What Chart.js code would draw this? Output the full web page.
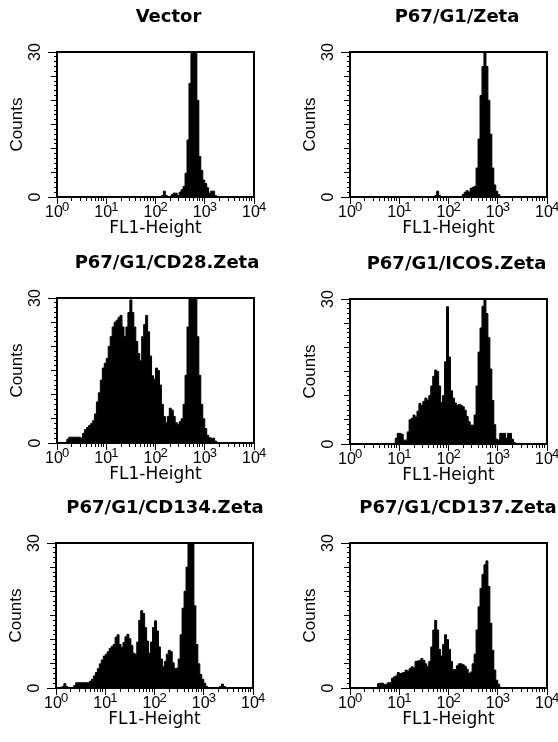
<!DOCTYPE html>
<html>
<head>
<meta charset="utf-8">
<script src="https://cdn.jsdelivr.net/npm/chart.js@4"></script>
<style>
  html, body { margin: 0; padding: 0; background: #fff; overflow: hidden; width: 558px; height: 742px; position: relative; }
  canvas { position: absolute; }
</style>
</head>
<body>
<script>
// ---------------- data ----------------
const BINS_PER_DECADE = 25;           // histogram channels per decade (4 decades, 10^0 .. 10^4)

const panelTitles = ['Vector', 'P67/G1/Zeta', 'P67/G1/CD28.Zeta', 'P67/G1/ICOS.Zeta', 'P67/G1/CD134.Zeta', 'P67/G1/CD137.Zeta'];

const xTickValues = [1, 2, 3, 4, 5, 6, 7, 8, 9,
                     10, 20, 30, 40, 50, 60, 70, 80, 90,
                     100, 200, 300, 400, 500, 600, 700, 800, 900,
                     1000, 2000, 3000, 4000, 5000, 6000, 7000, 8000, 9000, 10000];
const xDecadeValues = [1, 10, 100, 1000, 10000];
const xTickBases = { 1: '10', 10: '10', 100: '10', 1000: '10', 10000: '10' };
const xTickExponents = { 1: '0', 10: '1', 100: '2', 1000: '3', 10000: '4' };

const yTickValues = [0, 1, 2, 3, 4, 5, 6, 7, 8, 9, 10, 11, 12, 13, 14, 15, 16, 17, 18, 19, 20,
                     21, 22, 23, 24, 25, 26, 27, 28, 29, 30];
const yTickLabels = { 0: '0', 30: '30' };

const xAxisTitle = 'FL1-Height';
const yAxisTitle = 'Counts';

const vectorCounts = [
  0, 0, 0, 0, 0, 0, 0, 0, 0, 0,
  0, 0, 0, 0, 0, 0, 0, 0, 0, 0,
  0, 0, 0, 0, 0, 0, 0, 0, 0, 0,
  0, 0, 0, 0, 0, 0, 0, 0, 0, 0,
  0, 0, 0, 0, 0, 0, 0, 0, 0, 0,
  0, 0, 0, 0.3, 1.2, 0.3, 0, 0, 0.5, 0.8,
  0.8, 0.3, 1, 1.5, 2.2, 4.9, 11.8, 23.5, 40, 45,
  40, 20, 8.4, 5.5, 3.5, 2.8, 1.9, 0.8, 1.2, 1.2,
  0.3, 0, 0, 0, 0, 0, 0, 0, 0, 0,
  0, 0, 0, 0, 0, 0, 0, 0, 0, 0
];

const zetaCounts = [
  0, 0, 0, 0, 0, 0, 0, 0, 0, 0,
  0, 0, 0, 0, 0, 0, 0, 0, 0, 0,
  0, 0, 0, 0, 0, 0, 0, 0, 0, 0,
  0, 0, 0, 0, 0, 0, 0, 0, 0, 0,
  0, 0, 0, 0.3, 1.2, 0.3, 0, 0, 0, 0,
  0, 0, 0, 0, 0, 0, 0, 0.5, 1, 1.3,
  1, 1.8, 2, 2.2, 6, 12, 21, 27, 30.5, 27,
  20, 13, 6, 2.5, 1.2, 0.5, 0, 0, 0, 0,
  0, 0, 0, 0, 0, 0, 0, 0, 0, 0,
  0, 0, 0, 0, 0, 0, 0, 0, 0, 0
];

const cd28Counts = [
  0, 0, 0, 0, 0, 0.8, 1.2, 1.2, 1.2, 1.2,
  1.2, 1.2, 1, 2, 2.8, 3.2, 3.6, 4, 4.6, 6,
  8.5, 10.4, 13, 15.5, 16.5, 17.5, 20, 22, 24, 25,
  25.4, 26, 26.4, 24, 22, 24, 27, 29.6, 27, 24,
  21, 18.5, 17, 22, 24.5, 26.4, 23, 18, 13.9, 13.2,
  15.5, 15, 12, 8, 5.5, 4.2, 5.5, 7.2, 6.8, 5.5,
  4.2, 3.8, 4.4, 5, 8, 14, 24, 33, 40, 42,
  35, 22, 14, 8, 5, 3, 1.6, 1.1, 1, 1,
  0.4, 0, 0, 0, 0, 0, 0, 0, 0, 0,
  0, 0, 0, 0, 0, 0, 0, 0, 0, 0
];

const icosCounts = [
  0, 0, 0, 0, 0, 0, 0, 0, 0, 0,
  0, 0, 0, 0, 0, 0, 0, 0, 0, 0,
  0, 0, 0, 1.2, 2.2, 2.2, 2, 0.8, 0.8, 2.5,
  5, 5.3, 6, 5.6, 6.8, 8.4, 8, 8.8, 9.5, 9.1,
  10, 12, 14, 15.3, 15, 12, 8.6, 10, 17, 28.4,
  18, 11, 9.5, 8.5, 8, 8.2, 8, 7.7, 7, 5.7,
  4.6, 3.9, 3.9, 6, 12, 19, 24, 28.5, 29.8, 27,
  22, 15.5, 9, 4, 1, 0.8, 2.2, 2.2, 2.2, 1.2,
  2.2, 2.2, 1, 0.3, 0, 0, 0, 0, 0, 0,
  0, 0, 0, 0, 0, 0, 0, 0, 0, 0
];

const cd134Counts = [
  0, 0, 0, 0.3, 0.9, 0.3, 0, 0, 0, 0.5,
  1.1, 1.1, 1.1, 1.1, 1.1, 1.1, 1.1, 1.4, 1.8, 2.5,
  3.2, 4, 5, 5.8, 6.6, 7, 7.5, 8.2, 8.6, 9,
  10.5, 11, 9, 8.4, 9.4, 10.6, 11.1, 10.2, 8.8, 7.2,
  7, 9.5, 14, 16, 15.4, 12.5, 9.7, 7.2, 9.5, 12.5,
  13.9, 11.8, 8.5, 6, 4.4, 5.5, 7, 7.8, 7.5, 5.2,
  4, 4.1, 6, 11, 16.5, 20, 25, 35, 40, 30,
  17, 9, 5, 2.8, 1.8, 1, 0.3, 0, 0, 0,
  0, 0, 0, 0.3, 0.8, 0.3, 0, 0, 0, 0,
  0, 0, 0, 0, 0, 0, 0, 0, 0, 0
];

const cd137Counts = [
  0, 0, 0, 0, 0, 0, 0, 0, 0, 0,
  0, 0, 0, 0, 0.9, 1, 1, 0.7, 0.8, 1.1,
  1.1, 2, 2.3, 2.5, 3.2, 3, 3.1, 3.2, 3.7, 3.5,
  4, 4.4, 4.2, 5.5, 5.6, 5.7, 6.1, 5.7, 5, 4.4,
  5.5, 8.5, 12, 14, 12, 8, 6.6, 9, 11, 10,
  8, 5.5, 3.8, 3.8, 4.6, 5, 5, 4.8, 4.5, 3.9,
  3, 3.3, 5, 7, 12, 16.8, 20.6, 23.5, 25.5, 26.3,
  21, 13.4, 7.8, 3.7, 1.6, 0.8, 0, 0, 0, 0,
  0, 0, 0, 0, 0, 0, 0, 0, 0, 0,
  0, 0, 0, 0, 0, 0, 0, 0, 0, 0
];

const panelCounts = [vectorCounts, zetaCounts, cd28Counts, icosCounts, cd134Counts, cd137Counts];

// ---------------- layout (positions only) ----------------
const Y_AXIS_W = 58, PLOT_W = 197, PLOT_H = 145, TITLE_H = 52, X_AXIS_H = 40;
const panelBoxes = [
  { left: 57,  top: 52,  titleShift: 13 },
  { left: 350, top: 52,  titleShift: 8.5 },
  { left: 57,  top: 298, titleShift: 11.5 },
  { left: 350, top: 299, titleShift: 8 },
  { left: 56,  top: 543, titleShift: 10.5 },
  { left: 350, top: 543, titleShift: 9.5 }
];

Chart.defaults.color = '#000';

const boxPlugin = {
  id: 'plotBox',
  afterDatasetsDraw(chart) {
    const { ctx, chartArea: a } = chart;
    ctx.save();
    ctx.strokeStyle = '#000';
    ctx.lineWidth = 2;
    ctx.strokeRect(a.left, a.top, a.right - a.left, a.bottom - a.top);
    ctx.restore();
  }
};

function isDecade(v) {
  const l = Math.log10(v);
  return Math.abs(l - Math.round(l)) < 1e-9;
}

panelCounts.forEach((counts, k) => {
  const box = panelBoxes[k];
  const rightW = Math.round(2 * (box.titleShift + 29));
  const canvas = document.createElement('canvas');
  const cw = Y_AXIS_W + PLOT_W + rightW;
  const ch = TITLE_H + PLOT_H + X_AXIS_H;
  canvas.width = cw; canvas.height = ch;
  canvas.style.width = cw + 'px'; canvas.style.height = ch + 'px';
  canvas.style.left = (box.left - Y_AXIS_W) + 'px';
  canvas.style.top = (box.top - TITLE_H) + 'px';
  document.body.appendChild(canvas);

  const points = counts.concat([0]).map((c, i) => ({ x: Math.pow(10, i / BINS_PER_DECADE), y: c }));

  new Chart(canvas, {
    type: 'line',
    data: {
      datasets: [{
        data: points,
        stepped: true,
        fill: 'origin',
        backgroundColor: '#000',
        borderColor: '#000',
        borderWidth: 1,
        pointRadius: 0,
        tension: 0,
        xAxisID: 'x',
        yAxisID: 'y'
      }]
    },
    options: {
      responsive: false,
      animation: false,
      devicePixelRatio: 1,
      events: [],
      layout: { padding: 0 },
      plugins: {
        legend: { display: false },
        tooltip: { enabled: false },
        title: {
          display: true,
          text: panelTitles[k],
          color: '#000',
          font: { family: "'DejaVu Sans', sans-serif", size: 18, weight: 'bold', lineHeight: 1 },
          padding: { top: 8.5, bottom: 25.5 }
        }
      },
      scales: {
        x: {
          type: 'logarithmic',
          position: 'bottom',
          weight: 0,
          min: 1,
          max: 10000,
          afterBuildTicks: s => { s.ticks = xTickValues.map(v => ({ value: v, major: isDecade(v) })); },
          afterFit: s => { s.height = X_AXIS_H; s.paddingLeft = 0; s.paddingRight = 0; },
          border: { display: false },
          grid: {
            display: true,
            drawOnChartArea: false,
            drawTicks: true,
            tickLength: 7,
            tickColor: '#000',
            tickWidth: 1,
            tickBorderDash: c => (c.tick && isDecade(c.tick.value)) ? [] : [4, 60]
          },
          ticks: {
            autoSkip: false,
            maxRotation: 0,
            minRotation: 0,
            padding: 1,
            labelOffset: -3,
            color: '#000',
            font: { family: "'Liberation Sans', sans-serif", size: 16, lineHeight: 1 },
            callback: v => xTickBases[v] || ''
          },
          title: {
            display: true,
            text: xAxisTitle,
            color: '#000',
            font: { family: "'DejaVu Sans', sans-serif", size: 17, lineHeight: 1 },
            padding: { top: 0, bottom: 0 }
          }
        },
        xExp: {
          type: 'logarithmic',
          axis: 'x',
          position: 'bottom',
          weight: -1,
          min: 1,
          max: 10000,
          afterBuildTicks: s => { s.ticks = xDecadeValues.map(v => ({ value: v })); },
          afterFit: s => { s.height = 0; s.paddingLeft = 0; s.paddingRight = 0; },
          border: { display: false },
          grid: { display: false, drawTicks: false, tickLength: 0 },
          ticks: {
            autoSkip: false,
            mirror: true,
            maxRotation: 0,
            minRotation: 0,
            padding: -17,
            labelOffset: 8.5,
            color: '#000',
            font: { family: "'Liberation Sans', sans-serif", size: 13, lineHeight: 1 },
            callback: v => xTickExponents[v] || ''
          }
        },
        y: {
          type: 'linear',
          position: 'left',
          min: 0,
          max: 30,
          weight: 0,
          afterBuildTicks: s => { s.ticks = yTickValues.map(v => ({ value: v })); },
          afterFit: s => { s.width = Y_AXIS_W; s.paddingTop = 0; s.paddingBottom = 0; },
          border: { display: false },
          grid: {
            display: true,
            drawOnChartArea: false,
            drawTicks: true,
            tickLength: 9,
            tickColor: '#000',
            tickWidth: 1,
            tickBorderDash: c => {
              const v = c.tick ? c.tick.value : 0;
              if (v === 0 || v === 30) return [];
              if (v % 5 === 0) return [0, 3, 6, 60];
              return [0, 6, 3, 60];
            }
          },
          ticks: {
            autoSkip: false,
            minRotation: 90,
            maxRotation: 90,
            crossAlign: 'center',
            padding: 4,
            color: '#000',
            font: { family: "'Liberation Sans', sans-serif", size: 16, lineHeight: 1 },
            callback: v => yTickLabels[v] || ''
          },
          title: {
            display: true,
            text: yAxisTitle,
            color: '#000',
            font: { family: "'Liberation Sans', sans-serif", size: 17, lineHeight: 1 },
            padding: { top: 9.5, bottom: 0 }
          }
        },
        ySpacer: {
          type: 'linear',
          axis: 'y',
          position: 'right',
          display: true,
          min: 0,
          max: 30,
          afterFit: s => { s.width = rightW; s.paddingTop = 0; s.paddingBottom = 0; },
          border: { display: false },
          grid: { display: false, drawTicks: false },
          ticks: { display: false }
        }
      }
    },
    plugins: [boxPlugin]
  });
});
</script>
</body>
</html>
